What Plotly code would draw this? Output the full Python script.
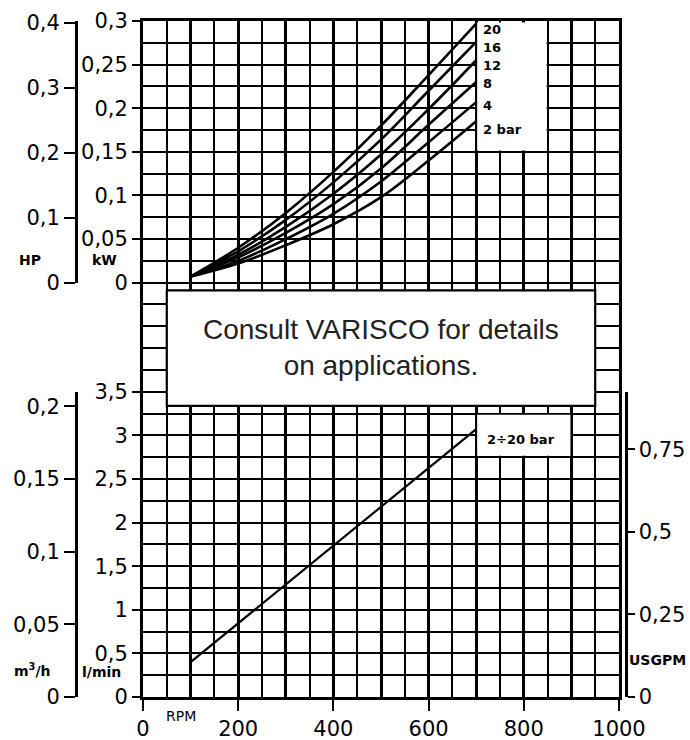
import plotly.graph_objects as go

# ---------------- data ----------------
rpm = [100, 200, 300, 400, 500, 600, 700]
pressure_labels = ["20", "16", "12", "8", "4", "2 bar"]
kw_20bar = [0.007, 0.040, 0.080, 0.127, 0.180, 0.238, 0.297]
kw_16bar = [0.007, 0.036, 0.072, 0.115, 0.164, 0.220, 0.276]
kw_12bar = [0.007, 0.032, 0.064, 0.102, 0.147, 0.199, 0.255]
kw_8bar = [0.007, 0.029, 0.057, 0.090, 0.131, 0.181, 0.230]
kw_4bar = [0.007, 0.025, 0.050, 0.079, 0.116, 0.161, 0.207]
kw_2bar = [0.007, 0.022, 0.043, 0.067, 0.098, 0.140, 0.185]
power_series = [kw_20bar, kw_16bar, kw_12bar, kw_8bar, kw_4bar, kw_2bar]

flow_rpm = [100, 700]
flow_lmin = [0.40, 3.07]
flow_label = "2÷20 bar"

rpm_ticks = [0, 200, 400, 600, 800, 1000]
kw_ticks = [0, 0.05, 0.1, 0.15, 0.2, 0.25, 0.3]
hp_ticks = [0, 0.1, 0.2, 0.3, 0.4]
lmin_ticks = [0, 0.5, 1, 1.5, 2, 2.5, 3, 3.5]
m3h_ticks = [0, 0.05, 0.1, 0.15, 0.2]
usgpm_ticks = [0, 0.25, 0.5, 0.75]

note_text = "Consult VARISCO for details<br>on applications."

# ---------------- geometry of the grid ----------------
N_ROWS = 31          # grid rows over full height
KW_STEP = 0.025      # kW per row (upper part)
KW_ZERO_ROW = 19     # row index (from bottom) of 0 kW
LMIN_STEP = 0.25     # l/min per row (lower part)
LMIN_TOP_ROW = 14    # row index of 3.5 l/min
KW_PER_HP = 0.745699872
LMIN_PER_USGPM = 3.785411784
M3H_PER_LMIN = 0.06

kw_range = [-KW_ZERO_ROW * KW_STEP, (N_ROWS - KW_ZERO_ROW) * KW_STEP]
lmin_range = [0, N_ROWS * LMIN_STEP]
kw_top = kw_range[1]
lmin_top = LMIN_TOP_ROW * LMIN_STEP

W, H = 690, 740
ML, MR, MT, MB = 76, 64, 21, 43
PW = W - ML - MR
PH = H - MT - MB
xdom = [(143 - ML) / PW, (619 - ML) / PW]


def comma(v):
    return f"{v:g}".replace(".", ",")


tick_font = dict(family="DejaVu Sans", size=21, color="black")
lab_font = dict(family="DejaVu Sans", size=13, color="black", weight="bold")
title_font = dict(family="DejaVu Sans", size=14, color="black", weight="bold")

fig = go.Figure()

for vals in power_series:
    fig.add_trace(go.Scatter(x=rpm, y=vals, mode="lines", xaxis="x", yaxis="y2",
                             line=dict(color="black", width=2.6, shape="spline"),
                             hoverinfo="skip"))
fig.add_trace(go.Scatter(x=flow_rpm, y=flow_lmin, mode="lines", xaxis="x", yaxis="y3",
                         line=dict(color="black", width=2.2), hoverinfo="skip"))

# helper traces so every axis has a subplot
for ax_x, ax_y in [("x", "y"), ("x2", "y"), ("x", "y4"), ("x", "y5"), ("x", "y6")]:
    fig.add_trace(go.Scatter(x=[None], y=[None], mode="lines", xaxis=ax_x, yaxis=ax_y,
                             hoverinfo="skip"))

common_y = dict(showgrid=False, zeroline=False, ticks="outside", tickwidth=2,
                tickcolor="black", tickfont=tick_font, automargin=False)

fig.update_layout(
    width=W, height=H,
    margin=dict(l=ML, r=MR, t=MT, b=MB, pad=0, autoexpand=False),
    paper_bgcolor="white", plot_bgcolor="rgba(0,0,0,0)",
    showlegend=False,
    xaxis=dict(domain=xdom, range=[0, 1000], tickmode="array", tickvals=rpm_ticks,
               ticktext=[str(v) for v in rpm_ticks], ticks="outside", ticklen=11,
               tickwidth=2, tickcolor="black", tickfont=tick_font, showgrid=False,
               zeroline=False, showline=True, mirror=True, linecolor="black",
               linewidth=3, anchor="y", automargin=False),
    xaxis2=dict(overlaying="x", range=[0, 1000], tickmode="linear", tick0=0, dtick=100,
                showgrid=True, gridcolor="black", gridwidth=3,
                minor=dict(tick0=0, dtick=50, showgrid=True, gridcolor="black", gridwidth=2),
                showticklabels=False, ticks="", zeroline=False, anchor="y", automargin=False),
    yaxis=dict(domain=[0, 1], range=[0, N_ROWS], tickmode="linear", tick0=0, dtick=1,
               showgrid=True, gridcolor="black", gridwidth=2, showticklabels=False,
               ticks="", zeroline=False, showline=True, mirror=True,
               linecolor="black", linewidth=3, anchor="x", automargin=False),
    yaxis2=dict(overlaying="y", anchor="x", side="left", range=kw_range,
                tickmode="array", tickvals=kw_ticks, ticktext=[comma(v) for v in kw_ticks],
                ticklen=10, showline=False, **common_y),
    yaxis3=dict(overlaying="y", anchor="x", side="left", range=lmin_range,
                tickmode="array", tickvals=lmin_ticks, ticktext=[comma(v) for v in lmin_ticks],
                ticklen=10, showline=False, **common_y),
    yaxis4=dict(anchor="free", position=0, side="left",
                domain=[KW_ZERO_ROW / N_ROWS, 1], range=[0, kw_top / KW_PER_HP],
                tickmode="array", tickvals=hp_ticks, ticktext=[comma(v) for v in hp_ticks],
                ticklen=11, showline=True, linecolor="black", linewidth=2.5, **common_y),
    yaxis5=dict(anchor="free", position=0, side="left",
                domain=[0, LMIN_TOP_ROW / N_ROWS], range=[0, lmin_top * M3H_PER_LMIN],
                tickmode="array", tickvals=m3h_ticks, ticktext=[comma(v) for v in m3h_ticks],
                ticklen=11, showline=True, linecolor="black", linewidth=2.5, **common_y),
    yaxis6=dict(anchor="free", position=1, side="right",
                domain=[0, LMIN_TOP_ROW / N_ROWS], range=[0, lmin_top / LMIN_PER_USGPM],
                tickmode="array", tickvals=usgpm_ticks, ticktext=[comma(v) for v in usgpm_ticks],
                ticklen=7, showline=True, linecolor="black", linewidth=2.5, **common_y),
)

# white label areas and the note box
fig.add_shape(type="rect", xref="x", yref="y", x0=702, x1=848, y0=25.06, y1=30.93,
              fillcolor="white", line=dict(width=0), layer="above")
fig.add_shape(type="rect", xref="x", yref="y", x0=702, x1=898, y0=11.06, y1=12.94,
              fillcolor="white", line=dict(width=0), layer="above")
fig.add_shape(type="rect", xref="x", yref="y", x0=50, x1=950, y0=13.35, y1=18.65,
              fillcolor="white", line=dict(color="black", width=2.2), layer="above")

fig.add_annotation(x=500, y=16.05, xref="x", yref="y", text=note_text, showarrow=False,
                   font=dict(family="Liberation Sans, Arial, sans-serif", size=28, color="#222"),
                   align="center", xanchor="center", yanchor="middle")

label_y = [0.2897, 0.2691, 0.2485, 0.2278, 0.2037, 0.1751]
for txt, yy in zip(pressure_labels, label_y):
    fig.add_annotation(x=711, y=yy, xref="x", yref="y2", text=txt, showarrow=False,
                       xanchor="left", yanchor="middle", font=lab_font)

fig.add_annotation(x=718, y=2.95, xref="x", yref="y3", text=flow_label, showarrow=False,
                   xanchor="left", yanchor="middle", font=lab_font)


def px(xp, yp):
    return (xp - ML) / PW, (H - MB - yp) / PH


for txt, (xp, yp), f in [("HP", (30, 260), title_font), ("kW", (104, 260), title_font),
                         ("m<sup>3</sup>/h", (32, 670), title_font),
                         ("l/min", (101, 672), title_font),
                         ("USGPM", (657, 660), title_font),
                         ("RPM", (181, 716), dict(family="DejaVu Sans", size=14, color="black"))]:
    ax_, ay_ = px(xp, yp)
    fig.add_annotation(x=ax_, y=ay_, xref="paper", yref="paper", text=txt, showarrow=False,
                       xanchor="center", yanchor="middle", font=f)

fig.write_html("out.html",
               config={"displayModeBar": False, "staticPlot": True},
               post_script="document.body.style.margin='0px';"
                           "document.body.style.overflow='hidden';")
